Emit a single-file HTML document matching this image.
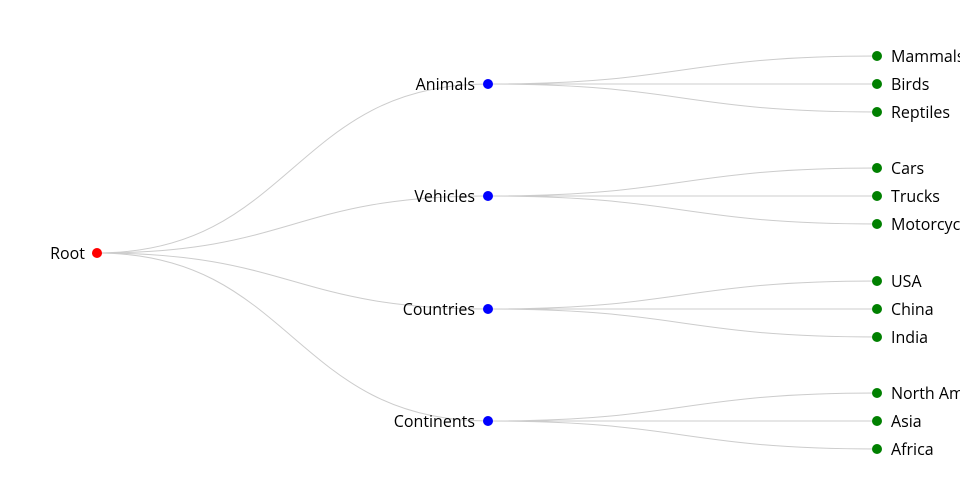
<!DOCTYPE html>
<html><head><meta charset="utf-8"><style>
html,body{margin:0;padding:0;background:#fff;width:960px;height:500px;overflow:hidden}
text{font-family:"Open Sans","Liberation Sans",sans-serif;font-size:16px;fill:#000}
path{fill:none;stroke:#ccc;stroke-width:1}
</style></head><body>
<svg width="960" height="500" xmlns="http://www.w3.org/2000/svg">
<g>
<path d="M97,253C292.5,253 292.5,84 488,84"/>
<path d="M97,253C292.5,253 292.5,196 488,196"/>
<path d="M97,253C292.5,253 292.5,309 488,309"/>
<path d="M97,253C292.5,253 292.5,421 488,421"/>
<path d="M488,84C682.5,84 682.5,56 877,56"/><path d="M488,84C682.5,84 682.5,84 877,84"/><path d="M488,84C682.5,84 682.5,112 877,112"/>
<path d="M488,196C682.5,196 682.5,168 877,168"/><path d="M488,196C682.5,196 682.5,196 877,196"/><path d="M488,196C682.5,196 682.5,224 877,224"/>
<path d="M488,309C682.5,309 682.5,281 877,281"/><path d="M488,309C682.5,309 682.5,309 877,309"/><path d="M488,309C682.5,309 682.5,337 877,337"/>
<path d="M488,421C682.5,421 682.5,393 877,393"/><path d="M488,421C682.5,421 682.5,421 877,421"/><path d="M488,421C682.5,421 682.5,449 877,449"/>
</g>
<circle cx="97" cy="253" r="5" fill="#f00"/>
<text x="85" y="259" text-anchor="end">Root</text>
<g fill="#00f">
<circle cx="488" cy="84" r="5"/><circle cx="488" cy="196" r="5"/><circle cx="488" cy="309" r="5"/><circle cx="488" cy="421" r="5"/>
</g>
<text x="475" y="90" text-anchor="end">Animals</text>
<text x="475" y="202" text-anchor="end">Vehicles</text>
<text x="475" y="315" text-anchor="end">Countries</text>
<text x="475" y="427" text-anchor="end">Continents</text>
<g fill="#008000">
<circle cx="877" cy="56" r="5"/><circle cx="877" cy="84" r="5"/><circle cx="877" cy="112" r="5"/>
<circle cx="877" cy="168" r="5"/><circle cx="877" cy="196" r="5"/><circle cx="877" cy="224" r="5"/>
<circle cx="877" cy="281" r="5"/><circle cx="877" cy="309" r="5"/><circle cx="877" cy="337" r="5"/>
<circle cx="877" cy="393" r="5"/><circle cx="877" cy="421" r="5"/><circle cx="877" cy="449" r="5"/>
</g>
<text x="891" y="62">Mammals</text><text x="891" y="90">Birds</text><text x="891" y="118">Reptiles</text>
<text x="891" y="174">Cars</text><text x="891" y="202">Trucks</text><text x="891" y="230">Motorcycles</text>
<text x="891" y="287">USA</text><text x="891" y="315">China</text><text x="891" y="343">India</text>
<text x="891" y="399">North America</text><text x="891" y="427">Asia</text><text x="891" y="455">Africa</text>
</svg>
</body></html>
